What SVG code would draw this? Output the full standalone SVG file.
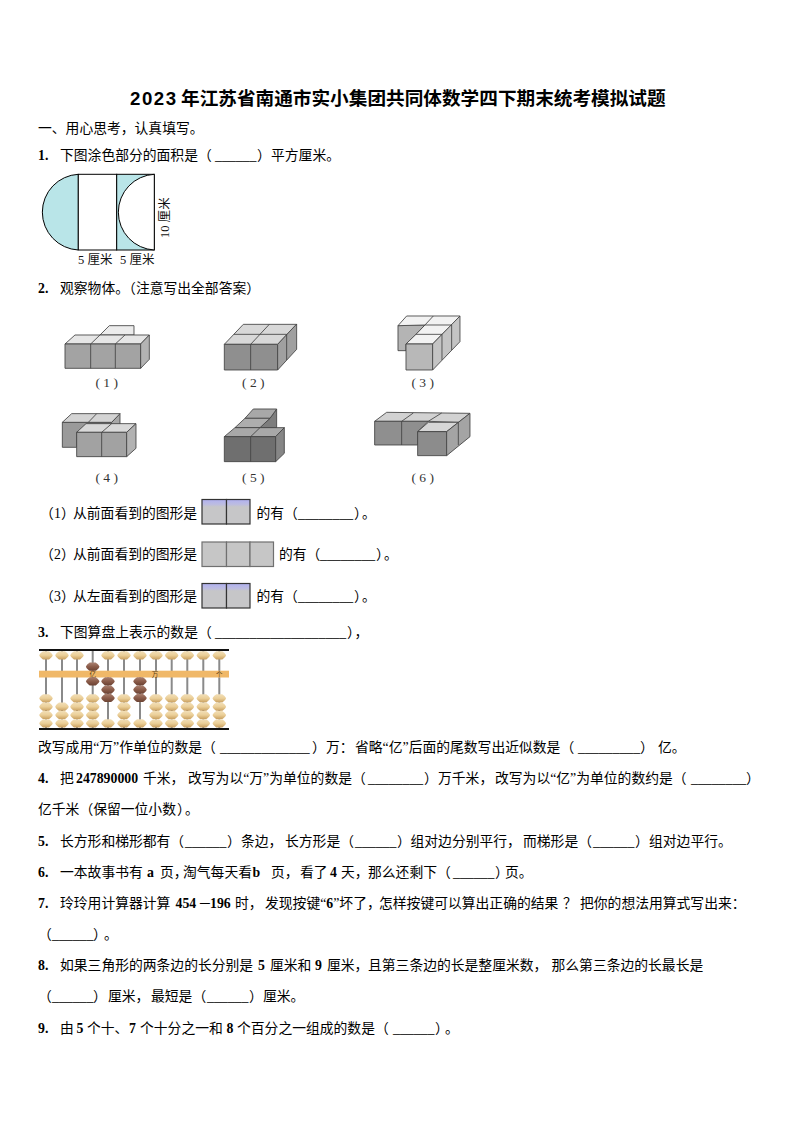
<svg xmlns="http://www.w3.org/2000/svg" xmlns:xlink="http://www.w3.org/1999/xlink" width="794" height="1123" viewBox="0 0 794 1123">
<style>
.t{font-family:"Liberation Serif","Noto Sans CJK SC",serif;font-size:13.8px;fill:#000}
.b{font-weight:700}
.p{font-feature-settings:"halt"}
.title{font-family:"Liberation Sans","Noto Sans CJK SC",sans-serif;font-size:18.65px;font-weight:700;fill:#000}
.small{font-family:"Liberation Serif","Noto Sans CJK SC",serif;font-size:12.5px;fill:#111}
.cap{font-family:"Liberation Serif","Noto Sans CJK SC",serif;font-size:13.5px;fill:#333;text-anchor:middle}
.bm{font-family:"Noto Sans CJK SC",sans-serif;font-size:6.5px;fill:#5a3a10;text-anchor:middle}
.fig polygon,.fig path{stroke:#444;stroke-width:2.6;stroke-linejoin:round}
.fig path{fill:none}
.rod{stroke:#8a8a8a;stroke-width:2}
.box{fill:url(#cell);stroke:#333;stroke-width:1.2}
.box2{fill:#c6c6c6;stroke:#707070;stroke-width:1.2}
</style>
<defs>
<linearGradient id="cell" x1="0" y1="0" x2="0" y2="1"><stop offset="0" stop-color="#b0b0f0"/><stop offset=".2" stop-color="#bcbce0"/><stop offset=".3" stop-color="#c6c6c8"/><stop offset="1" stop-color="#c6c6c8"/></linearGradient>
<linearGradient id="lb" x1="0" y1="0" x2="0" y2="1"><stop offset="0" stop-color="#f2dfb8"/><stop offset=".5" stop-color="#ebcf98"/><stop offset="1" stop-color="#c9a060"/></linearGradient>
<linearGradient id="db" x1="0" y1="0" x2="0" y2="1"><stop offset="0" stop-color="#a98070"/><stop offset=".5" stop-color="#8b5c4a"/><stop offset="1" stop-color="#6b4233"/></linearGradient>
<path id="lbd" d="M-6.8 0C-6 -2 -4 -3.4 -3 -4.1H3C4 -3.4 6 -2 6.8 0C6 2 4 3.4 3 4.1H-3C-4 3.4 -6 2 -6.8 0Z" fill="url(#lb)"/>
<path id="dbd" d="M-6.8 0C-6 -2 -4 -3.4 -3 -4.1H3C4 -3.4 6 -2 6.8 0C6 2 4 3.4 3 4.1H-3C-4 3.4 -6 2 -6.8 0Z" fill="url(#db)"/>
</defs>
<rect width="794" height="1123" fill="#fff"/>

<g id="title"><text class="title" y="105"><tspan x="130" textLength="46">2023</tspan><tspan x="181">年江苏省南通市实小集团共同体数学四下期末统考模拟试题</tspan></text></g>

<g id="text">
<text class="t" x="38" y="133">一、用心思考，认真填写。</text>
<text class="t" y="160"><tspan x="38" class="b">1.</tspan><tspan x="60">下图涂色部分的面积是（</tspan><tspan x="215">______</tspan><tspan x="257">）</tspan><tspan x="271">平方厘米。</tspan></text>
<text class="t" y="293"><tspan x="38" class="b">2.</tspan><tspan x="60">观察物体。（注意写出全部答案）</tspan></text>

<text class="t" y="518"><tspan x="40">（</tspan><tspan x="54">1</tspan><tspan x="61" class="p">）</tspan><tspan x="73">从前面看到的图形是</tspan><tspan x="256.5">的有（</tspan><tspan x="298">________</tspan><tspan x="354" class="p">）</tspan><tspan x="362">。</tspan></text>
<text class="t" y="559"><tspan x="40">（</tspan><tspan x="54">2</tspan><tspan x="61" class="p">）</tspan><tspan x="73">从前面看到的图形是</tspan><tspan x="279">的有（</tspan><tspan x="320">________</tspan><tspan x="376" class="p">）</tspan><tspan x="384">。</tspan></text>
<text class="t" y="601"><tspan x="40">（</tspan><tspan x="54">3</tspan><tspan x="61" class="p">）</tspan><tspan x="73">从左面看到的图形是</tspan><tspan x="256.5">的有（</tspan><tspan x="298">________</tspan><tspan x="354" class="p">）</tspan><tspan x="362">。</tspan></text>

<text class="t" y="637"><tspan x="38" class="b">3.</tspan><tspan x="60">下图算盘上表示的数是（</tspan><tspan x="215">___________________</tspan><tspan x="347" class="p">）</tspan><tspan x="354.5">，</tspan></text>

<text class="t" y="752"><tspan x="38">改写成用“万”作单位的数是（</tspan><tspan x="220">_____________</tspan><tspan x="312">）</tspan><tspan x="326">万：</tspan><tspan x="355">省略“亿”后面的尾数写出近似数是（</tspan><tspan x="578">_________</tspan><tspan x="640">）</tspan><tspan x="658">亿。</tspan></text>
<text class="t" y="783"><tspan x="38" class="b">4.</tspan><tspan x="60">把</tspan><tspan x="76" class="b">247890000</tspan><tspan x="143">千米，</tspan><tspan x="188">改写为以“万”为单位的数是（</tspan><tspan x="368">________</tspan><tspan x="424">）</tspan><tspan x="438">万千米，</tspan><tspan x="495">改写为以“亿”为单位的数约是（</tspan><tspan x="691">________</tspan><tspan x="746">）</tspan></text>
<text class="t" y="814"><tspan x="38">亿千米（保留一位小数</tspan><tspan x="177" class="p">）</tspan><tspan x="185">。</tspan></text>
<text class="t" y="846"><tspan x="38" class="b">5.</tspan><tspan x="60">长方形和梯形都有（</tspan><tspan x="185">______</tspan><tspan x="227">）</tspan><tspan x="241">条边，</tspan><tspan x="285">长方形是（</tspan><tspan x="355">______</tspan><tspan x="397">）</tspan><tspan x="410.5">组对边分别平行，</tspan><tspan x="523">而梯形是（</tspan><tspan x="593">______</tspan><tspan x="635">）</tspan><tspan x="649">组对边平行。</tspan></text>
<text class="t" y="877"><tspan x="38" class="b">6.</tspan><tspan x="60">一本故事书有</tspan><tspan x="147" class="b">a</tspan><tspan x="160">页</tspan><tspan class="p">，</tspan><tspan x="183">淘气每天看</tspan><tspan x="252.5" class="b">b</tspan><tspan x="271">页，</tspan><tspan x="300">看了</tspan><tspan x="330" class="b">4</tspan><tspan x="341">天，</tspan><tspan x="368">那么还剩下（</tspan><tspan x="453">______</tspan><tspan x="495" class="p">）</tspan><tspan x="505">页。</tspan></text>
<text class="t" y="908"><tspan x="38" class="b">7.</tspan><tspan x="60">玲玲用计算器计算</tspan><tspan x="175.5" class="b">454</tspan><tspan x="198" class="p">－</tspan><tspan x="210" class="b">196</tspan><tspan x="235">时，</tspan><tspan x="265">发现按键“</tspan><tspan class="b">6</tspan><tspan>”坏了</tspan><tspan class="p">，</tspan><tspan x="379">怎样按键可以算出正确的结果</tspan><tspan x="563">？</tspan><tspan x="580">把你的想法用算式写出来：</tspan></text>
<text class="t" y="939"><tspan x="38">（</tspan><tspan x="52">______</tspan><tspan x="93" class="p">）</tspan><tspan x="104">。</tspan></text>
<text class="t" y="970"><tspan x="38" class="b">8.</tspan><tspan x="60">如果三角形的两条边的长分别是</tspan><tspan x="258" class="b">5</tspan><tspan x="270">厘米和</tspan><tspan x="315" class="b">9</tspan><tspan x="327">厘米，</tspan><tspan x="368">且第三条边的长是整厘米数，</tspan><tspan x="551.5">那么第三条边的长最长是</tspan></text>
<text class="t" y="1001"><tspan x="38">（</tspan><tspan x="52">______</tspan><tspan x="93">）</tspan><tspan x="108">厘米，</tspan><tspan x="151">最短是（</tspan><tspan x="207">______</tspan><tspan x="249">）</tspan><tspan x="263">厘米。</tspan></text>
<text class="t" y="1033"><tspan x="38" class="b">9.</tspan><tspan x="60">由</tspan><tspan x="76.5" class="b">5</tspan><tspan x="87">个十、</tspan><tspan x="129" class="b">7</tspan><tspan x="140">个十分之一和</tspan><tspan x="226.5" class="b">8</tspan><tspan x="237">个百分之一组成的数是（</tspan><tspan x="393">______</tspan><tspan x="435" class="p">）</tspan><tspan x="445">。</tspan></text>
</g>

<g id="figure-area">
<path d="M78.3 174.3A37.9 37.9 0 0 0 78.3 250Z" fill="#b9e5e8" stroke="#000" stroke-width="1"/>
<rect x="78.3" y="174.3" width="38.4" height="75.7" fill="#fff" stroke="#000" stroke-width="1"/>
<rect x="116.7" y="174.3" width="37.6" height="75.7" fill="#b9e5e8" stroke="#000" stroke-width="1"/>
<path d="M154.3 174.3A37.9 37.9 0 0 0 154.3 250Z" fill="#fff" stroke="#000" stroke-width="1"/>
<text class="small" x="78" y="264">5 厘米</text>
<text class="small" x="120" y="264">5 厘米</text>
<text class="small" transform="translate(169 238) rotate(-90)">10 厘米</text>
</g>

<g id="solid-1" class="fig" transform="translate(40 305) scale(.3333)">
<polygon points="180,90 208,62 282,62 282,90" fill="#ececec"/>
<polygon points="75,117 105,90 328,90 302,117" fill="#e6e6e6"/>
<polygon points="75,117 302,117 302,190 75,190" fill="#a3a3a3"/>
<polygon points="302,117 328,90 328,163 302,190" fill="#b3b3b3"/>
<path d="M152 117V190M226 117V190M152 117L180 90M226 117L255 90"/>
</g>
<g id="solid-2" class="fig" transform="translate(40 305) scale(.3333)">
<polygon points="553,118 610,58 770,58 713,118" fill="#d8d8d8"/>
<polygon points="553,118 713,118 713,195 553,195" fill="#8f8f8f"/>
<polygon points="713,118 770,57 770,133 713,195" fill="#a0a0a0"/>
<path d="M632 118V195M632 118L688 58M582 88H740M740 88V165"/>
</g>
<g id="solid-3" class="fig" transform="translate(260 305) scale(.3333)">
<polygon points="414,62 495,60 468,88 438,117 438,137 414,137" fill="#b4b4b4"/>
<polygon points="414,62 440,33 600,33 575,60 546,88 518,117 438,117 468,88 495,60" fill="#f2f2f2"/>
<polygon points="438,117 518,117 518,195 438,195" fill="#b8b8b8"/>
<polygon points="518,117 600,33 600,110 518,195" fill="#c4c4c4"/>
<path d="M495 60H575M520 33L495 60M468 88H546M546 88V165M575 60V135"/>
</g>
<g id="solid-4" class="fig" transform="translate(40 305) scale(.3333)">
<polygon points="67,352 215,352 240,356 110,382 110,427 67,427" fill="#9a9a9a"/>
<polygon points="215,352 240,326 240,360 215,360" fill="#a8a8a8"/>
<polygon points="67,352 95,326 240,326 215,352" fill="#d4d4d4"/>
<polygon points="110,382 138,356 288,356 260,382" fill="#d9d9d9"/>
<polygon points="110,382 260,382 260,455 110,455" fill="#a2a2a2"/>
<polygon points="260,382 288,356 288,430 260,455" fill="#b2b2b2"/>
<path d="M145 352L170 326M185 382V455M185 382L215 356"/>
</g>
<g id="solid-5" class="fig" transform="translate(40 305) scale(.3333)">
<polygon points="690,340 710,312 710,368 660,368" fill="#7d7d7d"/>
<polygon points="615,340 640,312 710,312 690,340" fill="#a8a8a8"/>
<polygon points="585,368 615,340 690,340 660,368" fill="#adadad"/>
<polygon points="553,395 585,368 733,368 707,395" fill="#a8a8a8"/>
<polygon points="553,395 707,395 707,470 553,470" fill="#6f6f6f"/>
<polygon points="707,395 733,368 733,445 707,470" fill="#868686"/>
<path d="M632 395V470M632 395L660 368"/>
</g>
<g id="solid-6" class="fig" transform="translate(260 305) scale(.3333)">
<polygon points="344,349 380,322 630,325 595,352 505,349" fill="#d2d2d2"/>
<polygon points="344,349 505,349 473,380 473,420 344,420" fill="#8f8f8f"/>
<polygon points="473,380 505,352 595,352 560,380" fill="#d6d6d6"/>
<polygon points="473,380 560,380 560,452 473,452" fill="#8c8c8c"/>
<polygon points="560,380 630,325 630,395 560,452" fill="#a4a4a4"/>
<path d="M425 349V420M425 349L460 324M505 349L545 324M595 352V420"/>
</g>
<g id="captions">
<text class="cap" x="106.7" y="387">( 1 )</text>
<text class="cap" x="253.3" y="387">( 2 )</text>
<text class="cap" x="422.7" y="387">( 3 )</text>
<text class="cap" x="106.7" y="482">( 4 )</text>
<text class="cap" x="253.3" y="482">( 5 )</text>
<text class="cap" x="422.7" y="482">( 6 )</text>
</g>

<g id="view-1"><rect class="box" x="202" y="499.5" width="24.5" height="24.5"/><rect class="box" x="226.5" y="499.5" width="23.5" height="24.5"/></g>
<g id="view-2"><rect class="box2" x="202" y="542" width="24.5" height="24.5"/><rect class="box2" x="226.5" y="542" width="23.5" height="24.5"/><rect class="box2" x="250" y="542" width="23.5" height="24.5"/></g>
<g id="view-3"><rect class="box" x="202" y="583.5" width="24.5" height="24.5"/><rect class="box" x="226.5" y="583.5" width="23.5" height="24.5"/></g>

<g id="abacus">
<g class="rod"><path d="M46 650V729M62 650V729M77 650V729M92.7 650V729M108 650V729M124 650V729M140 650V729M156 650V729M171.7 650V729M187.3 650V729M203.3 650V729M219.3 650V729"/></g>
<rect x="39" y="670.7" width="190" height="6.8" fill="#f0b868"/>
<rect x="39" y="649" width="190" height="2" fill="#111"/>
<rect x="39" y="728" width="190" height="2" fill="#111"/>
<text class="bm" x="92.7" y="676.5">亿</text><text class="bm" x="155" y="676.5">万</text><text class="bm" x="219.3" y="676.5">个</text>
<g id="beads-light">
<use xlink:href="#lbd" x="46" y="655.3"/><use xlink:href="#lbd" x="62" y="655.3"/><use xlink:href="#lbd" x="77" y="655.3"/><use xlink:href="#lbd" x="108" y="655.3"/><use xlink:href="#lbd" x="124" y="655.3"/><use xlink:href="#lbd" x="140" y="655.3"/><use xlink:href="#lbd" x="156" y="655.3"/><use xlink:href="#lbd" x="171.7" y="655.3"/><use xlink:href="#lbd" x="187.3" y="655.3"/><use xlink:href="#lbd" x="203.3" y="655.3"/><use xlink:href="#lbd" x="219.3" y="655.3"/>
<use xlink:href="#lbd" x="46" y="698.3"/><use xlink:href="#lbd" x="46" y="706.7"/><use xlink:href="#lbd" x="46" y="715"/><use xlink:href="#lbd" x="46" y="723.3"/>
<use xlink:href="#lbd" x="62" y="706.7"/><use xlink:href="#lbd" x="62" y="715"/><use xlink:href="#lbd" x="62" y="723.3"/>
<use xlink:href="#lbd" x="77" y="698.3"/><use xlink:href="#lbd" x="77" y="706.7"/><use xlink:href="#lbd" x="77" y="715"/><use xlink:href="#lbd" x="77" y="723.3"/>
<use xlink:href="#lbd" x="92.7" y="698.3"/><use xlink:href="#lbd" x="92.7" y="706.7"/><use xlink:href="#lbd" x="92.7" y="715"/><use xlink:href="#lbd" x="92.7" y="723.3"/>
<use xlink:href="#lbd" x="108" y="723.3"/>
<use xlink:href="#lbd" x="124" y="698.3"/><use xlink:href="#lbd" x="124" y="706.7"/><use xlink:href="#lbd" x="124" y="715"/><use xlink:href="#lbd" x="124" y="723.3"/>
<use xlink:href="#lbd" x="140" y="723.3"/>
<use xlink:href="#lbd" x="156" y="698.3"/><use xlink:href="#lbd" x="156" y="706.7"/><use xlink:href="#lbd" x="156" y="715"/><use xlink:href="#lbd" x="156" y="723.3"/>
<use xlink:href="#lbd" x="171.7" y="698.3"/><use xlink:href="#lbd" x="171.7" y="706.7"/><use xlink:href="#lbd" x="171.7" y="715"/><use xlink:href="#lbd" x="171.7" y="723.3"/>
<use xlink:href="#lbd" x="187.3" y="698.3"/><use xlink:href="#lbd" x="187.3" y="706.7"/><use xlink:href="#lbd" x="187.3" y="715"/><use xlink:href="#lbd" x="187.3" y="723.3"/>
<use xlink:href="#lbd" x="203.3" y="698.3"/><use xlink:href="#lbd" x="203.3" y="706.7"/><use xlink:href="#lbd" x="203.3" y="715"/><use xlink:href="#lbd" x="203.3" y="723.3"/>
<use xlink:href="#lbd" x="219.3" y="698.3"/><use xlink:href="#lbd" x="219.3" y="706.7"/><use xlink:href="#lbd" x="219.3" y="715"/><use xlink:href="#lbd" x="219.3" y="723.3"/>
</g>
<g id="beads-dark">
<use xlink:href="#dbd" x="92.7" y="666.7"/><use xlink:href="#dbd" x="92.7" y="681.3"/>
<use xlink:href="#dbd" x="108" y="681.3"/><use xlink:href="#dbd" x="108" y="689.7"/><use xlink:href="#dbd" x="108" y="698"/>
<use xlink:href="#dbd" x="140" y="681.3"/><use xlink:href="#dbd" x="140" y="689.7"/><use xlink:href="#dbd" x="140" y="698"/>
</g>
</g>
</svg>
